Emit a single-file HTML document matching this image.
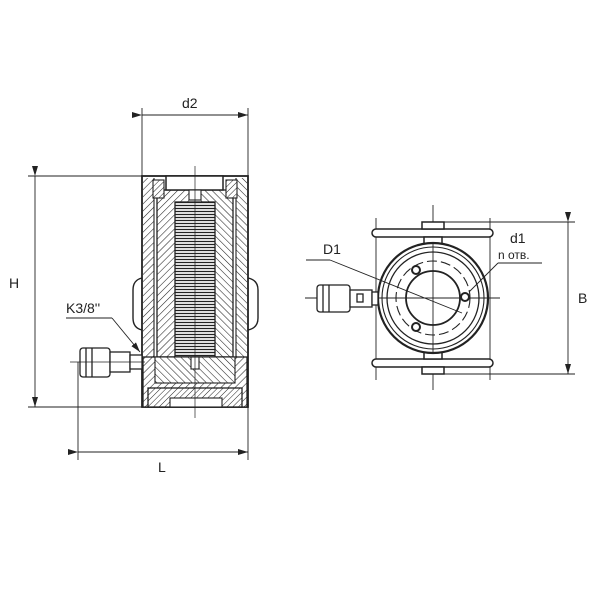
<!DOCTYPE html>
<html><head><style>
html,body{margin:0;padding:0;background:#fff;}
svg{display:block;}
text{font-family:"Liberation Sans",sans-serif;fill:#222;}
</style></head><body>
<svg width="600" height="600" viewBox="0 0 600 600" xmlns="http://www.w3.org/2000/svg">
<defs>
<pattern id="h1" width="5" height="5" patternUnits="userSpaceOnUse" patternTransform="rotate(45)">
<rect width="5" height="5" fill="#fff"/><line x1="0" y1="0" x2="0" y2="5" stroke="#222" stroke-width="1.1"/></pattern>
<pattern id="h2" width="5" height="5" patternUnits="userSpaceOnUse" patternTransform="rotate(-45)">
<rect width="5" height="5" fill="#fff"/><line x1="0" y1="0" x2="0" y2="5" stroke="#222" stroke-width="1.1"/></pattern>
<pattern id="h3" width="4" height="4" patternUnits="userSpaceOnUse" patternTransform="rotate(45)">
<rect width="4" height="4" fill="#fff"/><line x1="0" y1="0" x2="0" y2="4" stroke="#222" stroke-width="1"/></pattern>
<pattern id="spr" width="4" height="3" patternUnits="userSpaceOnUse">
<rect width="4" height="3" fill="#fff"/><line x1="0" y1="1.5" x2="4" y2="1.5" stroke="#222" stroke-width="1.3"/></pattern>
<marker id="ar" markerWidth="10" markerHeight="6" refX="10" refY="3" orient="auto" markerUnits="userSpaceOnUse"><path d="M0,0 L10,3 L0,6 z" fill="#222"/></marker>
</defs>
<g stroke="#222" stroke-width="0.9" fill="none">
<line x1="28" y1="176" x2="150" y2="176"/>
<line x1="28" y1="407" x2="150" y2="407"/>
<line x1="35" y1="176" x2="35" y2="407" marker-start="url(#ar)" marker-end="url(#ar)"/>
<line x1="142" y1="108" x2="142" y2="176"/>
<line x1="248" y1="108" x2="248" y2="176"/>
<line x1="142" y1="115" x2="248" y2="115" marker-start="url(#ar)" marker-end="url(#ar)"/>
<line x1="78" y1="362" x2="78" y2="460"/>
<line x1="248" y1="407" x2="248" y2="460"/>
<line x1="78" y1="452" x2="248" y2="452" marker-start="url(#ar)" marker-end="url(#ar)"/>
</g>
<path d="M142,278 Q133,280 133,290 L133,318 Q133,328 142,330" fill="#fff" stroke="#222" stroke-width="1.4"/>
<path d="M248,278 Q258,280 258,290 L258,318 Q258,328 248,330" fill="#fff" stroke="#222" stroke-width="1.4"/>
<rect x="142" y="176" width="106" height="231" fill="#fff" stroke="#222" stroke-width="1.8"/>
<rect x="143" y="178" width="11" height="228" fill="url(#h1)"/>
<rect x="236" y="178" width="11" height="228" fill="url(#h2)"/>
<rect x="157" y="190" width="76" height="167" fill="url(#h2)"/>
<rect x="157" y="190" width="38" height="167" fill="url(#h1)"/>
<rect x="157" y="190" width="76" height="167" fill="none" stroke="#222" stroke-width="1.3"/>
<line x1="154" y1="178" x2="154" y2="406" stroke="#222" stroke-width="1.1"/>
<line x1="236" y1="178" x2="236" y2="406" stroke="#222" stroke-width="1.1"/>
<rect x="153" y="180" width="11" height="18" fill="url(#h3)" stroke="#222" stroke-width="1.1"/>
<rect x="226" y="180" width="11" height="18" fill="url(#h3)" stroke="#222" stroke-width="1.1"/>
<rect x="166" y="176" width="57" height="14" fill="#fff" stroke="#222" stroke-width="1.5"/>
<rect x="189" y="190" width="12" height="10" fill="#fff" stroke="#222" stroke-width="1.1"/>
<rect x="175" y="202" width="40" height="155" fill="url(#spr)" stroke="#222" stroke-width="1.3"/>
<rect x="143" y="357" width="104" height="50" fill="url(#h1)" stroke="#222" stroke-width="1.3"/>
<rect x="155" y="357" width="80" height="26" fill="url(#h2)" stroke="#222" stroke-width="1.1"/>
<rect x="148" y="388" width="94" height="19" fill="url(#h3)" stroke="#222" stroke-width="1.3"/>
<rect x="170" y="398" width="52" height="9" fill="#fff" stroke="#222" stroke-width="1.1"/>
<rect x="191" y="357" width="8" height="12" fill="#fff" stroke="#222" stroke-width="1.1"/>
<line x1="195" y1="166" x2="195" y2="418" stroke="#222" stroke-width="0.7"/>
<g stroke="#222" stroke-width="1.3" fill="#fff">
<rect x="80" y="348" width="30" height="29" rx="3"/>
<line x1="86" y1="348" x2="86" y2="377"/><line x1="92" y1="348" x2="92" y2="377"/>
<rect x="110" y="352" width="20" height="20"/>
<rect x="130" y="355" width="12" height="14"/>
<line x1="70" y1="362" x2="145" y2="362" stroke-width="0.7"/>
</g>
<text x="66" y="313" font-size="14">K3/8''</text>
<line x1="66" y1="318" x2="112" y2="318" stroke="#222" stroke-width="0.9"/>
<line x1="112" y1="318" x2="140" y2="352" stroke="#222" stroke-width="0.9" marker-end="url(#ar)"/>
<text x="182" y="108" font-size="14">d2</text>
<text x="9" y="288" font-size="14">H</text>
<text x="158" y="472" font-size="14">L</text>

<g stroke="#222" stroke-width="0.9" fill="none">
<line x1="376" y1="218" x2="376" y2="380"/>
<line x1="490" y1="218" x2="490" y2="380"/>
<line x1="433" y1="222" x2="575" y2="222"/>
<line x1="433" y1="374" x2="575" y2="374"/>
<line x1="568" y1="222" x2="568" y2="374" marker-start="url(#ar)" marker-end="url(#ar)"/>
<line x1="433" y1="205" x2="433" y2="390"/>
<line x1="305" y1="298" x2="500" y2="298"/>
</g>
<g stroke="#222" stroke-width="1.5" fill="#fff">
<rect x="372" y="229" width="121" height="8" rx="4"/>
<rect x="372" y="359" width="121" height="8" rx="4"/>
<rect x="422" y="222" width="22" height="7"/>
<rect x="424" y="237" width="18" height="8"/>
<rect x="422" y="367" width="22" height="7"/>
<rect x="424" y="351" width="18" height="8"/>
</g>
<g stroke="#222" fill="none">
<circle cx="433" cy="298" r="55" stroke-width="2.2" fill="#fff"/>
<circle cx="433" cy="298" r="51" stroke-width="1.1"/>
<circle cx="433" cy="298" r="46" stroke-width="1.3"/>
<circle cx="433" cy="298" r="37" stroke-width="1.1" stroke-dasharray="10,4"/>
<circle cx="433" cy="298" r="27" stroke-width="1.8"/>
<line x1="433" y1="243" x2="433" y2="353" stroke-width="0.9"/>
<line x1="378" y1="298" x2="488" y2="298" stroke-width="0.9"/>
<circle cx="416" cy="270" r="4" stroke-width="2" fill="#fff"/>
<circle cx="465" cy="297" r="4" stroke-width="2" fill="#fff"/>
<circle cx="416" cy="327" r="4" stroke-width="2" fill="#fff"/>
<line x1="330" y1="260" x2="462" y2="313" stroke-width="0.9"/>
<line x1="306" y1="260" x2="330" y2="260" stroke-width="0.9"/>
<line x1="498" y1="263" x2="542" y2="263" stroke-width="0.9"/>
<line x1="498" y1="263" x2="469" y2="292" stroke-width="0.9"/>
</g>
<g stroke="#222" stroke-width="1.3" fill="#fff">
<rect x="317" y="285" width="33" height="27" rx="3"/>
<line x1="323" y1="285" x2="323" y2="312"/><line x1="329" y1="285" x2="329" y2="312"/>
<rect x="350" y="290" width="22" height="17"/>
<rect x="357" y="294" width="6" height="8"/>
<rect x="372" y="292" width="6" height="13"/>
</g>
<text x="323" y="254" font-size="14">D1</text>
<text x="510" y="243" font-size="14">d1</text>
<text x="498" y="259" font-size="12">n отв.</text>
<text x="578" y="303" font-size="14">B</text>
</svg>
</body></html>
